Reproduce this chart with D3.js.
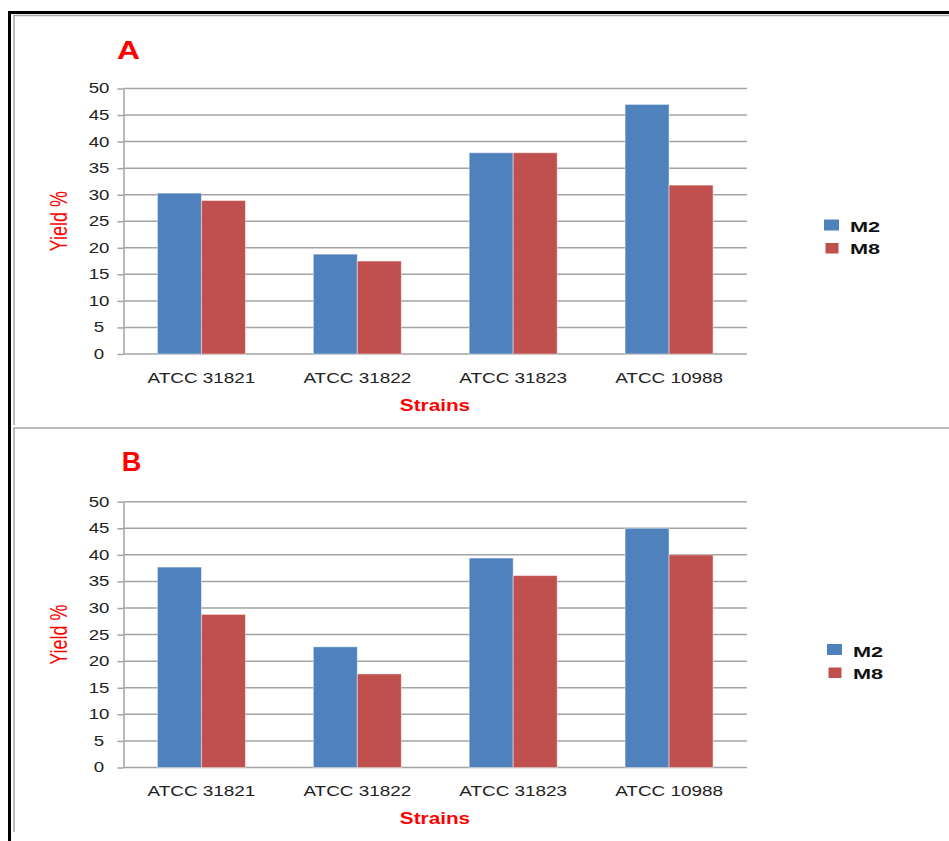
<!DOCTYPE html>
<html>
<head>
<meta charset="utf-8">
<script src="https://cdn.jsdelivr.net/npm/d3@7"></script>
<style>
  body { margin: 0; background: #fff; }
  svg { display: block; }
</style>
</head>
<body>
<svg id="chart" width="949" height="841"></svg>
<script>
// Yield (%) of two media (M2, M8) for four yeast strains, two experiments (A, B)
const strains = ["ATCC 31821", "ATCC 31822", "ATCC 31823", "ATCC 10988"];
const seriesNames = ["M2", "M8"];
const yTickValues = [0, 5, 10, 15, 20, 25, 30, 35, 40, 45, 50];
const panelTitles = ["A", "B"];

const yieldA_M2 = [30.3, 18.8, 37.9, 47.0];
const yieldA_M8 = [28.9, 17.5, 37.9, 31.8];
const yieldB_M2 = [37.7, 22.7, 39.4, 45.0];
const yieldB_M8 = [28.8, 17.6, 36.1, 40.0];

const colors = { M2: "#4F81BD", M8: "#C0504D" };
const FONT = "'Liberation Sans', Arial, sans-serif";

const svg = d3.select("#chart");

// stretch text horizontally by factor k
function stretch(sel, k) {
  sel.each(function () {
    const w = this.getComputedTextLength();
    this.setAttribute("textLength", (w * k).toFixed(1));
    this.setAttribute("lengthAdjust", "spacingAndGlyphs");
  });
}

// outer frame
svg.append("rect").attr("x", 0).attr("y", 0).attr("width", 949).attr("height", 841).attr("fill", "#fff");
svg.append("path")
  .attr("d", "M9.5,841 V12.5 H949")
  .attr("fill", "none").attr("stroke", "#000").attr("stroke-width", 3);

// panel borders
svg.append("path")
  .attr("d", "M14,425 V15.5 H949 M13,428 H949 M14,428 V832")
  .attr("fill", "none").attr("stroke", "#a6a6a6").attr("stroke-width", 1.5);

const panels = [
  { title: panelTitles[0], m2: yieldA_M2, m8: yieldA_M8, top: 88.5, bottom: 354,
    titleX: 128.5, titleY: 59, titleSize: 26, titleW: 23,
    xLabY: 383, stY: 411, legY: 219.5, legTextY: [232, 254], legX: 824, legTX: 850 },
  { title: panelTitles[1], m2: yieldB_M2, m8: yieldB_M8, top: 501.7, bottom: 767.5,
    titleX: 131.5, titleY: 471, titleSize: 28, titleW: 19.5,
    xLabY: 796, stY: 824, legY: 644, legTextY: [656.5, 679], legX: 827, legTX: 853 }
];

const plotLeft = 123.5, plotRight = 747;

panels.forEach(p => {
  const g = svg.append("g");

  const x = d3.scaleBand().domain(strains).range([plotLeft, plotRight]).padding(0);
  const bw = x.bandwidth();
  const barW = 44;
  const xSub = d3.scaleBand().domain(seriesNames).range([0, bw])
    .paddingInner(0).paddingOuter((bw - 2 * barW) / 2 / barW);
  const y = d3.scaleLinear().domain([0, 50]).range([p.bottom, p.top]);

  // gridlines
  g.append("g").selectAll("line").data(yTickValues).join("line")
    .attr("x1", plotLeft).attr("x2", plotRight)
    .attr("y1", d => y(d)).attr("y2", d => y(d))
    .attr("stroke", "#a3a3a3").attr("stroke-width", 1.5);

  // y axis
  const yAxis = g.append("g")
    .attr("transform", `translate(${plotLeft},0)`)
    .call(d3.axisLeft(y).tickValues(yTickValues).tickSize(6).tickSizeOuter(0).tickPadding(0));
  yAxis.select(".domain").attr("stroke", "#a3a3a3").attr("stroke-width", 1.5);
  yAxis.selectAll(".tick line").attr("stroke", "#a3a3a3").attr("stroke-width", 1.5);
  const yt = yAxis.selectAll(".tick text")
    .attr("x", -24.5).attr("text-anchor", "middle")
    .attr("font-family", FONT).attr("font-size", 14).attr("fill", "#222");
  stretch(yt, 1.33);

  // bars
  const rows = strains.map((s, i) => ({ strain: s, M2: p.m2[i], M8: p.m8[i] }));
  g.append("g").selectAll("g").data(rows).join("g")
    .attr("transform", d => `translate(${x(d.strain)},0)`)
    .selectAll("rect")
    .data(d => seriesNames.map(k => ({ key: k, value: d[k] })))
    .join("rect")
    .attr("x", d => xSub(d.key))
    .attr("width", xSub.bandwidth())
    .attr("y", d => y(d.value))
    .attr("height", d => y(0) - y(d.value))
    .attr("fill", d => colors[d.key])
    .attr("stroke", "rgba(255,255,255,0.45)").attr("stroke-width", 1);

  // x axis (category labels)
  const xAxis = g.append("g")
    .attr("transform", `translate(0,${p.bottom})`)
    .call(d3.axisBottom(x).tickSize(0).tickSizeOuter(0));
  xAxis.select(".domain").remove();
  const xt = xAxis.selectAll(".tick text")
    .attr("y", p.xLabY - p.bottom).attr("dy", 0)
    .attr("font-family", FONT).attr("font-size", 15).attr("fill", "#222");
  stretch(xt, 1.26);

  // panel title
  g.append("text").attr("x", p.titleX).attr("y", p.titleY)
    .attr("text-anchor", "middle").attr("font-family", FONT)
    .attr("font-weight", "bold").attr("font-size", p.titleSize).attr("fill", "#ff0000")
    .text(p.title)
    .attr("textLength", p.titleW).attr("lengthAdjust", "spacingAndGlyphs");

  // axis titles
  const st = g.append("text").attr("x", 435).attr("y", p.stY)
    .attr("text-anchor", "middle").attr("font-family", FONT)
    .attr("font-weight", "bold").attr("font-size", 17).attr("fill", "#ff0000")
    .text("Strains");
  stretch(st, 1.22);

  g.append("text")
    .attr("transform", `translate(67,${(p.top + p.bottom) / 2}) scale(1.3,1) rotate(-90)`)
    .attr("text-anchor", "middle").attr("font-family", FONT)
    .attr("font-size", 18).attr("fill", "#ff0000")
    .text("Yield %");

  // legend
  const leg = g.append("g");
  seriesNames.forEach((name, i) => {
    leg.append("rect")
      .attr("x", p.legX + (i === 1 ? 1.5 : 0))
      .attr("y", p.legY + i * 23 + (i === 1 ? 0.5 : 0))
      .attr("width", i === 1 ? 13 : 15).attr("height", i === 1 ? 10.5 : 11)
      .attr("fill", colors[name]);
    const t = leg.append("text")
      .attr("x", p.legTX).attr("y", p.legTextY[i])
      .attr("font-family", FONT).attr("font-weight", "bold")
      .attr("font-size", 15).attr("fill", "#111")
      .text(name);
    stretch(t, 1.45);
  });
});
</script>
</body>
</html>
